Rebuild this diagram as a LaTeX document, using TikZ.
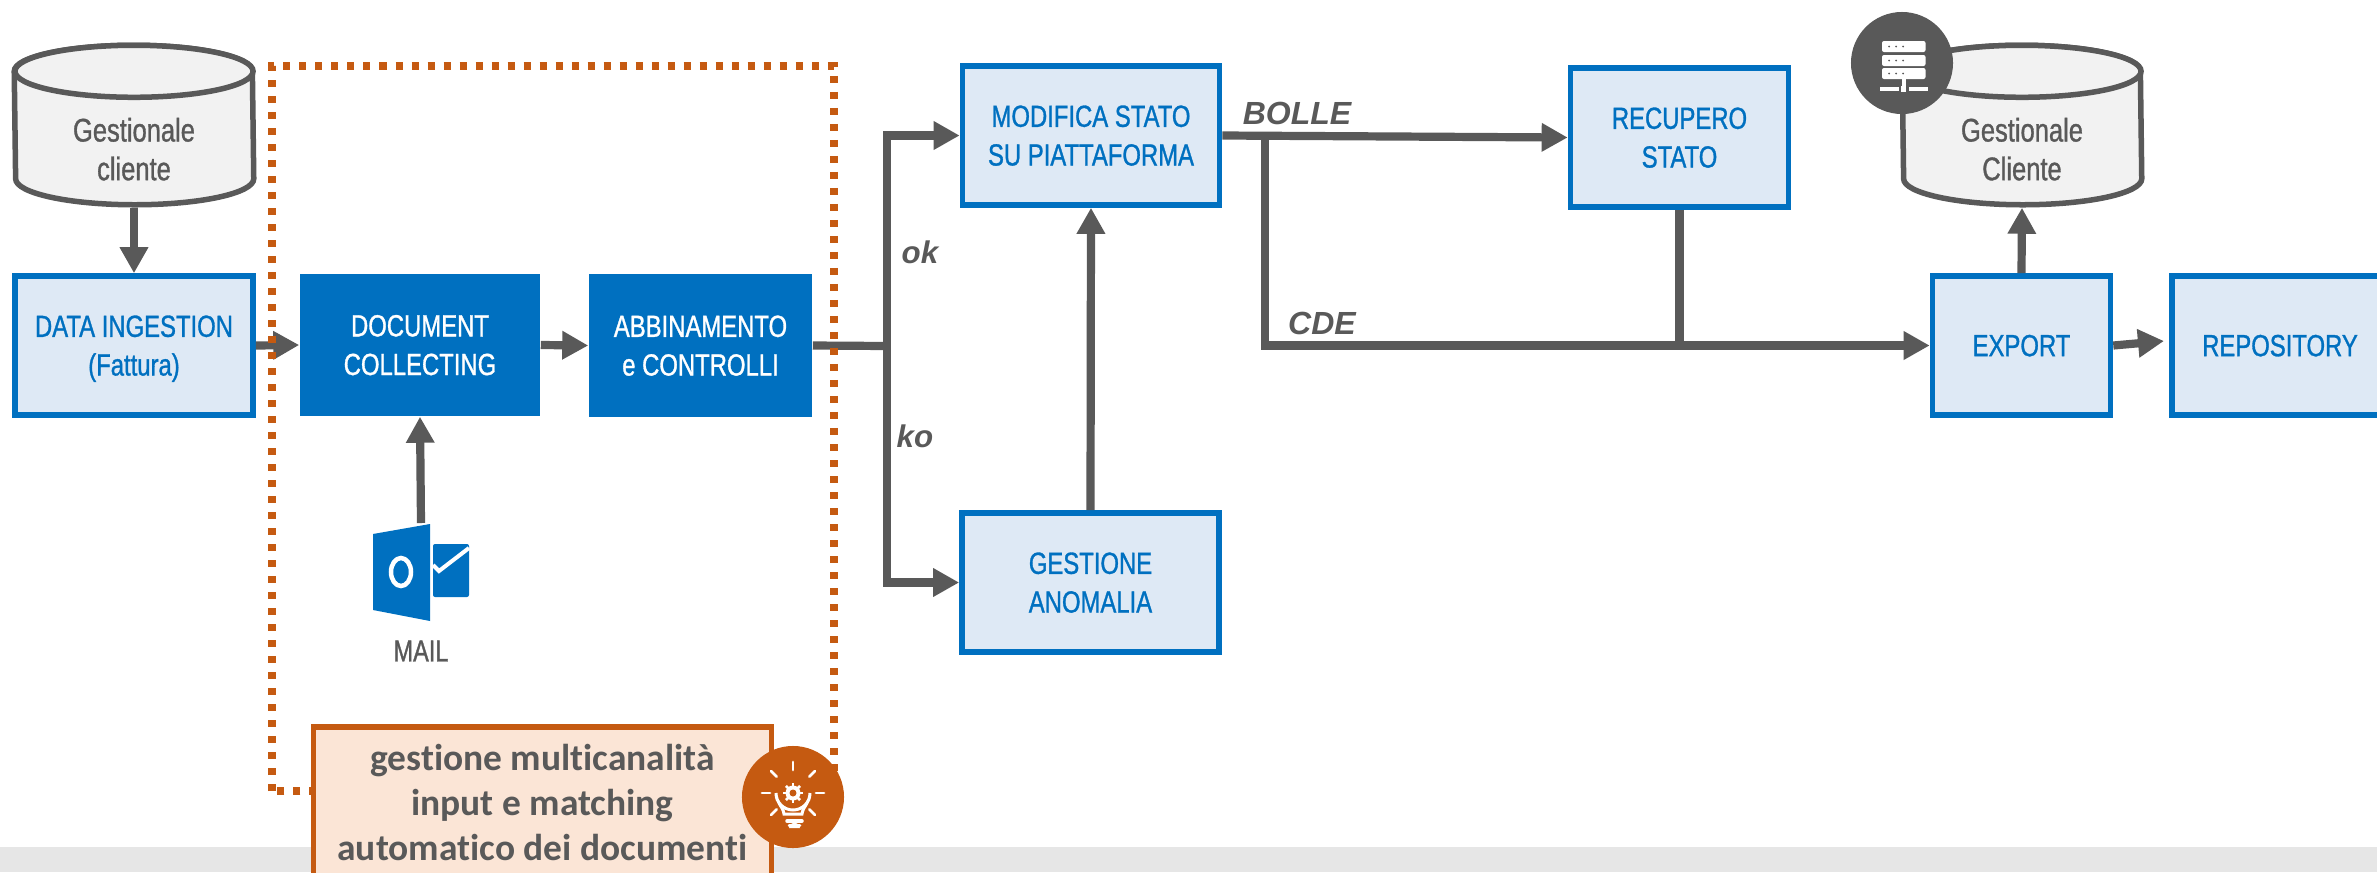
\documentclass[tikz,border=0pt]{standalone}
\usepackage{fontspec}
\usetikzlibrary{arrows.meta}
\setmainfont{Liberation Sans}
\newfontfamily\narrowfont[FakeStretch=0.78,FakeBold=1]{Liberation Sans}
\newfontfamily\notefont[Ligatures=NoCommon]{Carlito}
\definecolor{boxblue}{HTML}{0070C0}
\definecolor{boxfill}{HTML}{DEE9F5}
\definecolor{linegray}{HTML}{595959}
\definecolor{noteorange}{HTML}{C55A11}
\definecolor{notefill}{HTML}{FBE5D6}
\definecolor{dbfill}{HTML}{F2F2F2}
\definecolor{bandgray}{HTML}{E6E6E6}
\tikzset{
  boxtext/.style={font=\narrowfont\fontsize{8.7}{11}\selectfont, align=center, inner sep=0pt, text depth=0pt},
  lightbox/.style={boxtext, draw=boxblue, fill=boxfill, text=boxblue, line width=0.055cm, minimum width=2.38cm, minimum height=1.39cm},
  darkbox/.style={boxtext, fill=boxblue, text=white, minimum height=1.42cm},
  dbase/.style={minimum width=2.44cm, minimum height=1.64cm, inner sep=0pt},
  dbline/.style={draw=linegray, fill=dbfill, line width=0.055cm},
  dbtext/.style={boxtext, text=linegray, font=\narrowfont\fontsize{9.3}{11}\selectfont},
  link/.style={draw=linegray, line width=0.082cm},
  flow/.style={link, -{Triangle[length=0.26cm,width=0.27cm]}},
  tag/.style={font=\bfseries\itshape\fontsize{8.9}{10}\selectfont, text=linegray, inner sep=0pt},
  badge/.style={circle, minimum size=1.02cm, inner sep=0pt},
}
% database drum around a named node
\newcommand{\drum}[1]{
  \draw[dbline] ([xshift=0.03cm,yshift=-0.29cm]#1.north west) arc (180:0:1.19cm and 0.26cm) -- ([xshift=-0.03cm,yshift=0.29cm]#1.south east) arc (0:-180:1.19cm and 0.26cm) -- cycle;
  \draw[dbline] ([yshift=-0.29cm]#1.north) ellipse (1.19cm and 0.26cm);
}
\begin{document}
\begin{tikzpicture}[x=0.01cm, y=-0.01cm]
    \useasboundingbox (0,0) rectangle (2377,872);

    % band at the bottom
    \fill[bandgray] (0,847) rectangle (2377,872);

    % databases
    \node[dbase] (GC) at (134,125) {};
    \drum{GC}
    \node[dbtext] (GCt) at (134,149) {Gestionale\\cliente};
    \node[dbase] (GO) at (2022,125) {};
    \drum{GO}
    \node[dbtext] (GOt) at (2022,149) {Gestionale\\Cliente};

    % boxes
    \node[lightbox] (DI) at (134,345.5) {DATA INGESTION\\(Fattura)};
    \node[darkbox, minimum width=2.40cm] (DC) at (420,345) {DOCUMENT\\COLLECTING};
    \node[darkbox, minimum width=2.23cm] (AB) at (700.5,345.5) {ABBINAMENTO\\e CONTROLLI};
    \node[lightbox, minimum width=2.57cm] (MS) at (1091,135.5) {MODIFICA STATO\\SU PIATTAFORMA};
    \node[lightbox, minimum width=2.57cm] (GA) at (1090.5,582.5) {GESTIONE\\ANOMALIA};
    \node[lightbox, minimum width=2.18cm] (RS) at (1679.5,137.5) {RECUPERO\\STATO};
    \node[lightbox, minimum width=1.78cm] (EX) at (2021.5,345.5) {EXPORT};
    \node[lightbox, minimum width=2.16cm] (RP) at (2280,345.5) {REPOSITORY};

    % mail icon
    \fill[boxblue] (373,534) -- (430,524) -- (430,621) -- (373,610) -- cycle;
    \draw[white, line width=0.045cm] (401,572) ellipse (10 and 14);
    \fill[boxblue, rounded corners=0.02cm] (433,544) rectangle (469,597);
    \draw[white, line width=0.04cm] (433,565) -- (439,571) -- (469,548);
    \coordinate (OL) at (421,523);
    \node[dbtext, font=\narrowfont\fontsize{8.6}{10}\selectfont] (ML) at (421,651) {MAIL};

    % junctions
    \coordinate (J1) at (887,346);
    \coordinate (J2) at (1265,136);
    \coordinate (J3) at (1679.5,346);
    \coordinate (RPin) at (2164,341);

    % arrows
    \draw[flow] (GC.south) -- (DI.north);
    \draw[flow] (DI.east) -- (DC.west);
    \draw[flow] (DC.east) -- (AB.west);
    \draw[flow] (OL) -- (DC.south);
    \draw[link] (AB.east) -- (J1);
    \draw[flow] (J1) |- (MS.west);
    \draw[flow] (J1) |- (GA.west);
    \draw[flow] (GA.north) -- (MS.south);
    \draw[flow] (MS.east) -- (RS.west);
    \draw[flow] (J2) |- (EX.west);
    \draw[link] (RS.south) -- (J3);
    \draw[flow] (EX.north) -- (GO.south);
    \draw[flow] (EX.east) -- (RPin);

    % labels on the arrows
    \node[tag] (OK) at (920,252) {ok};
    \node[tag] (KO) at (915,436) {ko};
    \node[tag, font=\bfseries\itshape\fontsize{9.1}{10}\selectfont] (BO) at (1297,113) {BOLLE};
    \node[tag, font=\bfseries\itshape\fontsize{9.1}{10}\selectfont] (CD) at (1322,323) {CDE};

    % dotted frame
    \draw[noteorange, line width=0.075cm, dash pattern=on 0.07cm off 0.09cm] (272,791) -- (272,66) -- (834,66) -- (834,791) -- cycle;

    % note
    \node[draw=noteorange, fill=notefill, text=linegray, line width=0.055cm, minimum width=4.58cm, minimum height=1.50cm, inner sep=0pt, align=center, font=\notefont\bfseries\fontsize{10.65}{12.8}\selectfont] (NT) at (542.5,802) {gestione multicanalità\\input e matching\\automatico dei documenti};

    % bulb icon
    \node[badge, fill=noteorange] (BU) at (793,797) {};
    \begin{scope}[white, line cap=round]
      \foreach \a in {0,45,90,135,180,-45,-135}
        \draw[line width=0.028cm] (793,793) ++(-\a:23) -- ++(-\a:8);
      \draw[line width=0.03cm] (784,814) .. controls (783,806) and (776,803) .. (776,793) arc (180:0:17) .. controls (810,803) and (803,806) .. (802,814) -- cycle;
      \foreach \a in {0,45,...,315}
        \draw[line width=0.028cm, line cap=butt] (793,793) -- ++(\a:10);
      \fill (793,793) circle (7.5);
      \fill[noteorange] (793,793) circle (3.5);
      \draw[line width=0.035cm] (787,821) -- (802,821);
      \draw[line width=0.025cm] (789,825.5) -- (800,825.5);
      \fill (789,828) arc (180:360:5.5) -- cycle;
    \end{scope}

    % server icon
    \node[badge, fill=linegray] (SV) at (1902,63) {};
    \foreach \y in {41,55,68} {
      \fill[white, rounded corners=0.02cm] (1882,\y) rectangle (1925.5,\y+11);
      \foreach \x in {1889,1896,1903}
        \fill[linegray] (\x,\y+5.5) circle (1);
    }
    \fill[white] (1902,79) rectangle (1906,87);
    \fill[white] (1880,87) rectangle (1899,91);
    \fill[white] (1901,86) rectangle (1906,92);
    \fill[white] (1909,87) rectangle (1928,91);

  \end{tikzpicture}
\end{document}
